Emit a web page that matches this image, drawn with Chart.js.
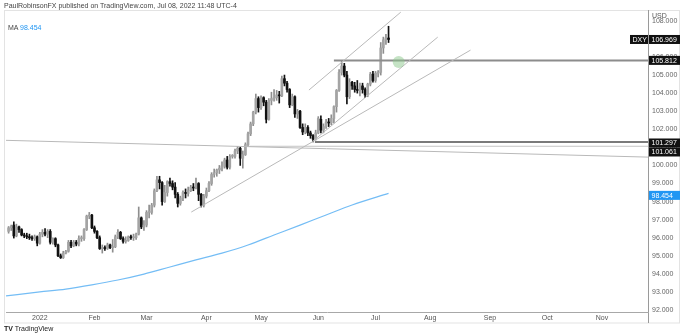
<!DOCTYPE html>
<html>
<head>
<meta charset="utf-8">
<script src="https://cdn.jsdelivr.net/npm/chart.js@4"></script>
<style>
  html, body { margin: 0; padding: 0; background: #fff; }
  #wrap { position: relative; width: 680px; height: 336px; font-family: 'Liberation Sans', Arial, sans-serif; }
  #dxyChart { position: absolute; left: 0; top: 0; }
  .note { position: absolute; font-size: 7px; color: #444; white-space: nowrap; }
</style>
</head>
<body>
<div id="wrap">
  <canvas id="dxyChart" width="680" height="336"></canvas>
  <div class="note" style="left:4px;top:2px;">PaulRobinsonFX published on TradingView.com, Jul 08, 2022 11:48 UTC-4</div>
  <div class="note" style="left:8px;top:24px;">MA <span style="color:#2196f3">98.454</span></div>
  <div class="note" style="left:4px;top:325px;color:#222;"><b>TV</b> TradingView</div>
</div>
<script>
// bar index 0 = Jan 3 2022 (trading days), first bar = Dec 16 2021
const firstBar = -12;
const opens = [96.35,96.55,96.70,96.10,96.60,96.45,96.15,96.10,96.05,96.00,95.95,96.05,
  95.70,96.20,96.30,96.20,96.35,95.75,95.95,95.60,95.00,94.90,95.15,95.25,95.75,95.55,95.75,95.65,95.95,95.95,96.45,97.20,97.25,
  96.55,96.35,96.00,95.40,95.45,95.40,95.60,95.45,95.50,96.05,96.30,95.95,95.80,95.85,96.05,96.00,96.00,96.20,97.10,96.60,
  96.70,97.40,97.40,97.80,98.60,99.20,99.05,98.00,98.50,99.10,99.00,98.80,98.40,97.90,98.20,98.50,98.45,98.60,98.80,98.75,99.00,98.40,97.80,
  98.30,98.60,99.00,99.50,99.60,99.75,99.85,99.95,100.30,99.90,100.50,100.50,100.80,100.95,100.40,100.60,101.15,101.75,102.30,102.95,103.70,
  103.20,103.75,103.50,102.55,103.60,103.70,103.75,103.90,103.85,104.80,104.55,104.20,103.35,103.80,102.85,103.00,102.10,101.85,102.10,101.80,101.65,101.45,
  101.80,102.55,101.95,102.15,102.40,102.35,102.60,103.25,104.15,105.15,105.50,105.00,103.80,104.60,104.40,104.20,104.15,104.40,104.20,103.90,104.50,105.05,
  104.70,105.10,105.15,106.50,106.95,107.05];
const highs = [96.62,96.70,96.88,96.75,96.65,96.50,96.25,96.25,96.20,96.10,96.15,96.10,
  96.30,96.45,96.50,96.45,96.45,96.00,96.00,95.65,95.10,95.25,95.30,95.85,95.85,95.85,95.85,96.10,96.10,96.50,97.25,97.40,97.30,
  96.65,96.40,96.10,95.60,95.55,95.70,95.65,95.90,96.15,96.45,96.35,96.05,96.05,96.10,96.15,96.20,96.25,97.70,97.15,96.95,
  97.50,97.80,97.90,98.70,99.40,99.40,99.10,98.90,99.15,99.30,99.15,99.05,98.50,98.30,98.60,98.70,98.80,98.90,99.00,99.30,99.05,98.45,98.40,
  98.75,99.10,99.60,99.80,99.80,100.00,100.20,100.40,100.50,100.60,100.60,100.90,101.05,101.00,100.80,101.25,101.85,102.40,103.00,103.95,103.80,
  103.85,103.80,103.60,103.70,104.05,104.20,104.15,104.10,104.95,105.00,104.65,104.25,103.95,103.85,103.10,103.05,102.30,102.30,102.20,101.90,101.70,101.95,
  102.70,102.75,102.30,102.55,102.60,102.80,103.30,104.20,105.30,105.80,105.65,105.20,104.80,104.65,104.60,104.70,104.55,104.55,104.30,104.55,105.15,105.20,
  105.20,105.25,106.80,107.10,107.25,107.70];
const lows = [96.25,96.40,95.98,96.05,96.30,96.10,96.00,95.95,95.90,95.85,95.85,95.55,
  95.65,96.05,96.10,96.00,95.65,95.65,95.50,94.95,94.85,94.85,95.10,95.20,95.45,95.50,95.55,95.55,95.80,95.85,96.40,97.05,96.50,
  96.25,95.95,95.35,95.15,95.30,95.35,95.40,95.20,95.45,95.95,95.90,95.70,95.70,95.80,95.90,95.85,95.90,96.15,96.50,96.40,
  96.60,97.10,97.30,97.70,98.55,98.70,97.80,97.95,98.30,98.85,98.65,98.20,97.70,97.80,98.05,98.20,98.30,98.55,98.60,98.70,98.05,97.70,97.70,
  98.20,98.55,98.90,99.35,99.40,99.55,99.70,99.85,99.80,99.80,100.40,100.40,100.65,100.00,99.85,100.55,101.05,101.65,102.20,102.85,102.95,
  103.10,103.30,102.35,102.50,103.35,103.55,103.60,103.45,103.80,104.40,104.05,103.20,103.30,102.65,102.60,102.05,101.70,101.75,101.65,101.50,101.30,101.40,
  101.75,101.80,101.80,102.05,102.15,102.25,102.35,102.95,104.10,105.00,104.90,103.40,103.70,104.20,104.05,104.00,103.85,104.00,103.75,103.80,104.40,104.60,
  104.60,104.90,105.00,106.20,106.70,106.80];
const closes = [96.55,96.62,96.10,96.60,96.45,96.15,96.10,96.05,96.00,95.95,96.05,95.70,
  96.20,96.30,96.20,96.35,95.75,95.95,95.60,95.00,94.90,95.15,95.25,95.75,95.55,95.75,95.65,95.95,95.95,96.45,97.20,97.25,96.55,
  96.35,96.00,95.40,95.45,95.40,95.60,95.45,95.50,96.05,96.30,95.95,95.80,95.85,96.05,96.00,96.00,96.20,97.10,96.60,96.70,
  97.40,97.40,97.80,98.60,99.20,99.05,98.00,98.50,99.10,99.00,98.80,98.40,97.90,98.20,98.50,98.45,98.60,98.80,98.75,99.00,98.40,97.80,98.30,
  98.60,99.00,99.50,99.60,99.75,99.85,99.95,100.30,99.90,100.50,100.50,100.80,100.95,100.40,100.60,101.15,101.75,102.30,102.95,103.70,103.20,
  103.75,103.50,102.55,103.60,103.70,103.75,103.90,103.85,104.80,104.55,104.20,103.35,103.80,102.85,103.00,102.10,101.85,102.10,101.80,101.65,101.45,101.80,
  102.60,101.95,102.15,102.40,102.35,102.60,103.25,104.15,105.15,105.50,105.00,103.80,104.60,104.40,104.20,104.15,104.40,104.20,103.90,104.50,105.05,104.70,
  105.10,105.15,106.50,106.95,107.05,106.969];

// 200 day moving average, read at a few bars
const maBars = [-13, 0, 10, 20, 30, 40, 50, 60, 70, 80, 90, 100, 110, 120, 134];
const maValues = [92.78, 93.00, 93.16, 93.39, 93.66, 93.99, 94.38, 94.77, 95.15, 95.60, 96.15, 96.70, 97.26, 97.81, 98.454];

// month labels on the time axis
const monthBars = [0, 21, 41, 64, 85, 107, 129, 150, 173, 195, 216];
const monthLabels = ['2022', 'Feb', 'Mar', 'Apr', 'May', 'Jun', 'Jul', 'Aug', 'Sep', 'Oct', 'Nov'];
// price axis ticks
const priceTicks = [92, 93, 94, 95, 96, 97, 98, 99, 100, 101, 102, 103, 104, 105, 106, 107, 108];

// drawn trendlines [bar1, price1, bar2, price2]
const trendLines = [
  [58.2, 97.42, 165.5, 106.38],
  [103.4, 104.17, 138.7, 108.48],
  [105.0, 101.35, 152.9, 107.10],
  [-13.4, 101.39, 233.7, 100.46]
];
const levelPrices = [105.812, 101.297, 101.061];
const levelStarts = [113, 105.7, 79];
const levelColors = ['#8c8c8c', '#7a7a7a', '#c4c4c4'];
const levelWidths = [2, 2, 1];

const lastBar = 233.7;
const upColor = '#a4a4a4';
const downColor = '#111111';

const bars = opens.map((o, k) => firstBar + k);
const isUp = k => closes[k] >= opens[k];

const datasets = [];
trendLines.forEach(t => {
  datasets.push({
    type: 'line',
    data: [{ x: t[0], y: t[1] }, { x: t[2], y: t[3] }],
    borderColor: '#b9b9b9',
    borderWidth: 1,
    pointRadius: 0,
    order: 1
  });
});
levelPrices.forEach((p, k) => {
  datasets.push({
    type: 'line',
    data: [{ x: levelStarts[k], y: p }, { x: lastBar, y: p }],
    borderColor: levelColors[k],
    borderWidth: levelWidths[k],
    pointRadius: 0,
    order: 1
  });
});
datasets.push({
  type: 'line',
  data: maBars.map((b, k) => ({ x: b, y: maValues[k] })),
  borderColor: '#74bdf5',
  borderWidth: 1.2,
  pointRadius: 0,
  cubicInterpolationMode: 'monotone',
  order: 1
});
datasets.push({
  type: 'line',
  data: [{ x: 137.9, y: 105.72 }],
  showLine: false,
  pointRadius: 6,
  pointBorderWidth: 0,
  pointBackgroundColor: 'rgba(140,200,140,0.5)',
  order: 0
});
datasets.push({
  type: 'bar',
  data: bars.map((b, k) => ({ x: b, y: [lows[k], highs[k]] })),
  backgroundColor: ctx => isUp(ctx.dataIndex) ? '#8e8e8e' : downColor,
  barThickness: 1,
  grouped: false,
  order: 3
});
datasets.push({
  type: 'bar',
  data: bars.map((b, k) => ({ x: b, y: [opens[k], closes[k]] })),
  backgroundColor: ctx => isUp(ctx.dataIndex) ? upColor : downColor,
  barThickness: 2,
  minBarLength: 1,
  grouped: false,
  order: 2
});

const priceTags = {
  id: 'priceTags',
  beforeDraw(chart) {
    const c = chart.ctx;
    c.save();
    c.strokeStyle = '#e3e3e3';
    c.lineWidth = 1;
    c.strokeRect(4.5, 10.5, 675, 312.5);
    c.strokeStyle = '#9a9a9a';
    c.beginPath();
    c.moveTo(648.5, 10);
    c.lineTo(648.5, 323);
    c.stroke();
    c.restore();
  },
  afterDraw(chart) {
    const c = chart.ctx;
    const y = chart.scales.y;
    c.save();
    c.font = '7px "Liberation Sans", Arial, sans-serif';
    c.textBaseline = 'middle';
    const tag = (txt, x, w, yc, bg) => {
      c.fillStyle = bg;
      c.fillRect(x, yc - 4.5, w, 9);
      c.fillStyle = '#fff';
      c.fillText(txt, x + 2.5, yc + 0.5);
    };
    c.fillStyle = '#555';
    c.fillText('USD', 652, 16);
    const yLast = y.getPixelForValue(106.969);
    tag('DXY', 630, 18, yLast, '#111');
    tag('106.969', 649, 31, yLast, '#111');
    tag('105.812', 649, 31, y.getPixelForValue(105.812), '#111');
    tag('101.297', 649, 31, y.getPixelForValue(101.297) + 1, '#111');
    tag('101.061', 649, 31, y.getPixelForValue(101.297) + 10, '#111');
    tag('98.454', 649, 31, y.getPixelForValue(98.454) + 2, '#2196f3');
    c.restore();
  }
};

new Chart(document.getElementById('dxyChart'), {
  data: { datasets: datasets },
  options: {
    responsive: false,
    animation: false,
    layout: { padding: { left: 4, top: 10, right: 0, bottom: 13 } },
    plugins: { legend: { display: false }, tooltip: { enabled: false } },
    scales: {
      x: {
        type: 'linear',
        min: -13,
        max: lastBar,
        offset: false,
        grid: { display: false, drawTicks: false },
        border: { display: true, color: '#a8a8a8' },
        afterBuildTicks: s => { s.ticks = monthBars.map(v => ({ value: v })); },
        afterFit: s => { s.height = 11; },
        ticks: {
          autoSkip: false,
          maxRotation: 0,
          padding: 2,
          color: '#555',
          font: { size: 7, family: 'Liberation Sans' },
          callback: (v, k) => monthLabels[k]
        }
      },
      y: {
        position: 'right',
        min: 91.89,
        max: 108.6,
        grid: { display: false, drawTicks: false },
        border: { display: false },
        afterBuildTicks: s => { s.ticks = priceTicks.map(v => ({ value: v })); },
        afterFit: s => { s.width = 32; },
        ticks: {
          autoSkip: false,
          padding: 4,
          color: '#666',
          font: { size: 7, family: 'Liberation Sans' },
          callback: v => v.toFixed(3)
        }
      }
    }
  },
  plugins: [priceTags]
});
</script>
</body>
</html>
